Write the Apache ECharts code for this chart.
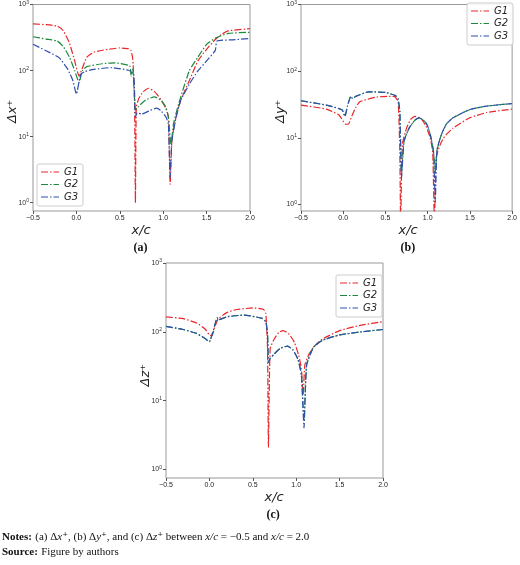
<!DOCTYPE html>
<html lang="en">
<head>
  <meta charset="UTF-8">
  <title>grid spacing</title>
  <script src="https://cdn.jsdelivr.net/npm/echarts@6/dist/echarts.min.js"></script>
  <style>
    *{margin:0;padding:0;}
    body{width:520px;height:565px;background:#fff;}
    .container{width:520px;height:565px;}
  </style>
</head>
<body>
  <div class="container"></div>
  <script type="text/javascript">
    var seriesNames = ['G1', 'G2', 'G3']
    var panelNames = ['Δx⁺', 'Δy⁺', 'Δz⁺']
    var yTickExp = {1: '0', 10: '1', 100: '2', 1000: '3'}

    // panel (a) : [x/c, value]
    var aG1 = [[-0.5,510],[-0.35,495],[-0.22,470],[-0.15,400],[-0.08,260],[-0.02,140],[0.03,83],[0.07,110],[0.12,160],[0.2,190],[0.3,203],[0.5,220],[0.6,215],[0.63,200],[0.65,148],[0.67,35],[0.68,1],[0.69,28],[0.72,38],[0.77,48],[0.83,54],[0.9,48],[0.97,37],[1.03,27],[1.06,20],[1.08,1.9],[1.1,8.7],[1.14,18],[1.2,35],[1.3,70],[1.4,140],[1.5,210],[1.6,295],[1.68,360],[1.75,400],[2.0,430]]
    var aG2 = [[-0.5,325],[-0.35,300],[-0.22,280],[-0.15,230],[-0.08,160],[-0.02,100],[0.03,66],[0.07,100],[0.12,115],[0.3,127],[0.45,131],[0.6,120],[0.62,115],[0.63,83],[0.65,105],[0.68,25],[0.72,29],[0.8,36],[0.9,40],[0.97,36],[1.03,28],[1.06,19.6],[1.09,7.7],[1.12,16],[1.18,32],[1.3,99],[1.4,160],[1.5,250],[1.6,310],[1.75,365],[2.0,380]]
    var aG3 = [[-0.5,250],[-0.35,200],[-0.2,157],[-0.1,105],[-0.04,70],[0,44],[0.01,49],[0.05,88],[0.1,97],[0.2,104],[0.4,111],[0.6,101],[0.66,88],[0.68,19.6],[0.7,23],[0.75,22],[0.85,25],[0.92,27],[0.97,25],[1.03,20],[1.06,15.5],[1.08,2.4],[1.1,8.7],[1.15,20],[1.2,35],[1.3,62],[1.4,99],[1.5,140],[1.6,202],[1.62,280],[1.8,292],[2.0,305]]
    // panel (b)
    var bG1 = [[-0.5,31],[-0.2,27],[-0.05,22],[0.03,16],[0.06,16],[0.1,21],[0.15,29],[0.2,35],[0.4,41],[0.6,42],[0.65,35],[0.67,6.3],[0.68,0.5],[0.7,8],[0.75,14],[0.8,19],[0.85,21],[0.92,19.5],[0.98,15],[1.03,10],[1.06,6],[1.08,0.5],[1.1,5],[1.15,8],[1.2,10.5],[1.3,14],[1.5,20],[1.7,24],[2.0,27]]
    var bG2 = [[-0.5,36],[-0.2,31],[-0.05,27.5],[-0.01,26],[0.02,21],[0.05,30],[0.09,42],[0.11,39],[0.15,42],[0.3,49],[0.5,48],[0.62,43],[0.65,38],[0.67,25],[0.69,3],[0.72,8.9],[0.78,14],[0.85,18.5],[0.9,20],[0.96,18],[1.0,15],[1.04,10],[1.07,6],[1.09,3],[1.11,6.5],[1.16,11],[1.22,16],[1.3,20],[1.5,26.6],[1.7,30],[2.0,32.7]]
    var bG3 = [[-0.5,36],[-0.2,31],[-0.05,27.5],[-0.01,26],[0.02,21],[0.05,30],[0.09,42],[0.11,39],[0.15,42],[0.3,49],[0.5,48],[0.62,43],[0.65,38],[0.67,25],[0.69,2.5],[0.72,8.9],[0.78,14],[0.85,18.5],[0.9,20],[0.96,18],[1.0,15],[1.04,10],[1.07,6],[1.09,1.1],[1.11,6.5],[1.16,11],[1.22,16],[1.3,20],[1.5,26.6],[1.7,30],[2.0,32.7]]
    // panel (c)
    var cG1 = [[-0.5,165],[-0.3,155],[-0.15,135],[-0.05,110],[0,90],[0.03,88],[0.06,115],[0.1,153],[0.2,190],[0.3,209],[0.5,222],[0.62,213],[0.65,185],[0.67,57],[0.68,2.1],[0.7,57],[0.75,80],[0.8,98],[0.85,104],[0.92,92],[0.98,70],[1.03,45],[1.06,29],[1.08,12],[1.1,33],[1.15,48],[1.2,60],[1.3,78],[1.5,104],[1.75,125],[2.0,140]]
    var cG2 = [[-0.5,120],[-0.3,108],[-0.15,95],[-0.05,80],[0,72],[0.01,75],[0.05,110],[0.09,160],[0.11,150],[0.2,165],[0.4,175],[0.6,158],[0.65,140],[0.67,90],[0.68,36],[0.7,41],[0.75,48],[0.82,58],[0.9,62],[0.96,55],[1.02,40],[1.06,23.5],[1.09,5],[1.12,33],[1.2,60],[1.3,75],[1.5,90],[1.75,100],[2.0,108]]
    var cG3 = [[-0.5,120],[-0.3,108],[-0.15,95],[-0.05,80],[0,72],[0.01,75],[0.05,110],[0.09,160],[0.11,150],[0.2,165],[0.4,175],[0.6,158],[0.65,140],[0.67,90],[0.68,36],[0.7,41],[0.75,48],[0.82,58],[0.9,62],[0.96,55],[1.02,40],[1.06,23.5],[1.09,4],[1.12,33],[1.2,60],[1.3,75],[1.5,90],[1.75,100],[2.0,108]]

    var panelData = [[aG1, aG2, aG3], [bG1, bG2, bG3], [cG1, cG2, cG3]]
    var colors = ['#e8262a', '#1c8a3c', '#2f4fae']
    var dash = [7, 2, 1.5, 2]

    var grids = [
      {left: 33, top: 3, width: 217, height: 208},
      {left: 301, top: 3, width: 215, height: 208},
      {left: 166, top: 263, width: 217, height: 215}
    ]
    var mCharts = echarts.init(document.querySelector('.container'))
    var serif = '"Liberation Serif", "DejaVu Serif", serif'
    var xAxis = [], yAxis = [], series = [], graphic = []
    var legendPos = [[37, 164], [467, 3], [336, 275]]
    grids.forEach(function (g, i) {
      g.show = true
      g.borderColor = '#999'
      g.borderWidth = 1
      xAxis.push({
        gridIndex: i, type: 'value', min: -0.5, max: 2.0, interval: 0.5,
        axisLine: {show: false, onZero: false}, splitLine: {show: false},
        axisTick: {show: true, length: 3, lineStyle: {color: '#555'}},
        axisLabel: {fontSize: 7, color: '#222', margin: 4, formatter: function (v) { return v.toFixed(1).replace('-', '−') }}
      })
      yAxis.push({
        gridIndex: i, type: 'log', logBase: 10, min: i == 1 ? 0.8 : 0.75, max: 1000,
        axisLine: {show: false, onZero: false}, splitLine: {show: false},
        axisTick: {show: true, length: 3, lineStyle: {color: '#555'}},
        minorTick: {show: false},
        axisLabel: {color: '#333', margin: 4, showMinLabel: false,
          rich: {b: {fontSize: 7, color: '#333'}, s: {fontSize: 5, color: '#333', verticalAlign: 'top', padding: [0, 0, 4, 0]}},
          formatter: function (v) {
            var r = Math.round(v); return yTickExp[r] && Math.abs(v - r) < 1e-6 ? '{b|10}{s|' + yTickExp[r] + '}' : ''
          }}
      })
      panelData[i].forEach(function (d, k) {
        series.push({
          type: 'line', name: seriesNames[k], xAxisIndex: i, yAxisIndex: i, data: d,
          showSymbol: false, symbol: 'none', z: 2 + k, smooth: 0.15,
          lineStyle: {color: colors[k], width: 1.2, type: dash}
        })
      })
      // axis titles
      graphic.push({type: 'text', left: g.left + g.width / 2 - 10, top: g.top + g.height + 13,
        style: {text: 'x/c', font: 'italic 13px "DejaVu Sans", sans-serif', fill: '#222'}})
      graphic.push({type: 'text', x: g.left - 27, y: g.top + g.height / 2 + 16, rotation: Math.PI / 2,
        style: {text: panelNames[i], font: 'italic 13px "DejaVu Sans", sans-serif', fill: '#222'}})
      graphic.push({type: 'text', left: g.left + g.width / 2 - 8, top: g.top + g.height + 31,
        style: {text: '(' + 'abc'[i] + ')', font: 'bold 12px ' + serif, fill: '#111'}})
      // legend box
      var lp = legendPos[i]
      var items = [{type: 'rect', shape: {x: 0, y: 0, width: 46, height: 42, r: 2},
        style: {fill: 'rgba(255,255,255,0.9)', stroke: '#ccc', lineWidth: 1}}]
      seriesNames.forEach(function (n, k) {
        items.push({type: 'line', shape: {x1: 4, y1: 8 + k * 12.5, x2: 22, y2: 8 + k * 12.5},
          style: {stroke: colors[k], lineWidth: 1.2, lineDash: dash}})
        items.push({type: 'text', x: 27, y: 3 + k * 12.5,
          style: {text: n, font: 'italic 10px "DejaVu Sans", sans-serif', fill: '#222'}})
      })
      graphic.push({type: 'group', x: lp[0], y: lp[1], z: 100, children: items})
    })
    graphic.push({type: 'text', left: 2, top: 531, style: {
      rich: {b: {font: 'bold 11px ' + serif, fill: '#111'}, n: {font: '11px ' + serif, fill: '#111'}, i: {font: 'italic 11px ' + serif, fill: '#111'}},
      text: '{b|Notes:} {n|(a) Δ}{i|x}{n|⁺, (b) Δ}{i|y}{n|⁺, and (c) Δ}{i|z}{n|⁺ between }{i|x/c}{n| = −0.5 and }{i|x/c}{n| = 2.0}'
    }})
    graphic.push({type: 'text', left: 2, top: 546, style: {
      rich: {b: {font: 'bold 11px ' + serif, fill: '#111'}, n: {font: '11px ' + serif, fill: '#111'}},
      text: '{b|Source:} {n|Figure by authors}'
    }})

    var option = {
      animation: false,
      grid: grids, xAxis: xAxis, yAxis: yAxis, series: series, graphic: graphic
    }
    mCharts.setOption(option)
  </script>
</body>
</html>
